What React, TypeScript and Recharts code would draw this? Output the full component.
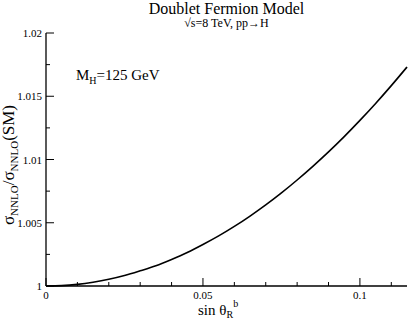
import React from 'react'
import { LineChart, Line, XAxis, YAxis } from 'recharts'

// sin(theta_R^b) sampled every 0.005
const sinTheta = [
  0, 0.005, 0.01, 0.015, 0.02, 0.025, 0.03, 0.035, 0.04, 0.045, 0.05, 0.055,
  0.06, 0.065, 0.07, 0.075, 0.08, 0.085, 0.09, 0.095, 0.1, 0.105, 0.11, 0.115,
]
// sigma_NNLO / sigma_NNLO(SM)
const ratio = [
  1, 1.00003, 1.00013, 1.0003, 1.00053, 1.00083, 1.0012, 1.0016, 1.0021,
  1.00265, 1.00328, 1.00396, 1.00471, 1.00553, 1.00641, 1.00736, 1.00838,
  1.00946, 1.0106, 1.01181, 1.01309, 1.01443, 1.01584, 1.01731,
]

const xTicks = [0, 0.01, 0.02, 0.03, 0.04, 0.05, 0.06, 0.07, 0.08, 0.09, 0.1, 0.11]
const xMajor = [0, 0.05, 0.1]
const xMajorLabels = ['0', '0.05', '0.1']
const yTicks = [1, 1.0025, 1.005, 1.0075, 1.01, 1.0125, 1.015, 1.0175, 1.02]
const yMajor = [1, 1.005, 1.01, 1.015, 1.02]
const yMajorLabels = ['1', '1.005', '1.01', '1.015', '1.02']

const data = sinTheta.map((x, i) => ({ x, y: ratio[i] }))

const FONT = '"Liberation Serif", "DejaVu Serif", serif'

const majorIndex = (list: number[], v: number) =>
  list.findIndex((m) => Math.abs(m - v) < 1e-9)

const XTick = ({ x, y, payload, top }: any) => {
  const i = majorIndex(xMajor, payload.value)
  const len = i >= 0 ? 8 : 4
  const dir = top ? 1 : -1
  return (
    <g>
      <line x1={x} x2={x} y1={y} y2={y + dir * len} stroke="#000" strokeWidth={1} />
      {!top && i >= 0 && (
        <text x={x} y={y + 13} textAnchor="middle" fontSize={11} fontFamily={FONT} fill="#000">
          {xMajorLabels[i]}
        </text>
      )}
    </g>
  )
}

const YTick = ({ x, y, payload, right }: any) => {
  const i = majorIndex(yMajor, payload.value)
  const len = i >= 0 ? 8 : 4
  const dir = right ? -1 : 1
  return (
    <g>
      <line x1={x} x2={x + dir * len} y1={y} y2={y} stroke="#000" strokeWidth={1} />
      {!right && i >= 0 && (
        <text x={x - 4} y={y + 4} textAnchor="end" fontSize={11} fontFamily={FONT} fill="#000">
          {yMajorLabels[i]}
        </text>
      )}
    </g>
  )
}

export default function App() {
  return (
    <div style={{ position: 'relative', width: 409, height: 324, fontFamily: FONT, color: '#000' }}>
      <style>{`body{margin:0}`}</style>
      <div style={{ position: 'absolute', left: 46, width: 361, top: 1, textAlign: 'center', fontSize: 16, lineHeight: '16px' }}>
        Doublet Fermion Model
      </div>
      <div style={{ position: 'absolute', left: 46, width: 361, top: 17, textAlign: 'center', fontSize: 12, lineHeight: '12px' }}>
        √s=8 TeV, pp→H
      </div>
      <LineChart
        width={409}
        height={324}
        data={data}
        margin={{ top: 33, right: 2, bottom: 0, left: 0 }}
      >
        <XAxis
          xAxisId="b"
          dataKey="x"
          type="number"
          domain={[0, 0.115]}
          ticks={xTicks}
          interval={0}
          height={38}
          tickSize={0}
          tickMargin={0}
          tickLine={false}
          axisLine={{ stroke: '#000', strokeWidth: 1.3 }}
          tick={<XTick />}
        />
        <XAxis
          xAxisId="t"
          orientation="top"
          dataKey="x"
          type="number"
          domain={[0, 0.115]}
          ticks={xTicks}
          interval={0}
          height={0}
          tickSize={0}
          tickMargin={0}
          tickLine={false}
          axisLine={{ stroke: '#000', strokeWidth: 1.3 }}
          tick={<XTick top />}
        />
        <YAxis
          yAxisId="l"
          type="number"
          domain={[1, 1.02]}
          ticks={yTicks}
          interval={0}
          width={46}
          tickSize={0}
          tickMargin={0}
          tickLine={false}
          axisLine={{ stroke: '#000', strokeWidth: 1.3 }}
          tick={<YTick />}
        />
        <YAxis
          yAxisId="r"
          orientation="right"
          type="number"
          domain={[1, 1.02]}
          ticks={yTicks}
          interval={0}
          width={0}
          tickSize={0}
          tickMargin={0}
          tickLine={false}
          axisLine={{ stroke: '#000', strokeWidth: 1.6 }}
          tick={<YTick right />}
        />
        <Line
          xAxisId="b"
          yAxisId="l"
          dataKey="y"
          type="monotone"
          stroke="#000"
          strokeWidth={1.6}
          dot={false}
          isAnimationActive={false}
        />
      </LineChart>
      <div style={{ position: 'absolute', left: 76, top: 68, fontSize: 15, lineHeight: '15px', whiteSpace: 'nowrap' }}>
        M<sub style={{ fontSize: 10, verticalAlign: -4 }}>H</sub>=125 GeV
      </div>
      <div style={{ position: 'absolute', left: 198, top: 299, fontSize: 15, lineHeight: '15px', whiteSpace: 'nowrap' }}>
        sin θ<sub style={{ fontSize: 10, verticalAlign: -3, lineHeight: '10px' }}>R</sub>
        <sup style={{ fontSize: 10, verticalAlign: 8, lineHeight: '10px' }}>b</sup>
      </div>
      <div
        style={{
          position: 'absolute',
          left: 11,
          top: 165,
          transform: 'translate(-50%, -50%) rotate(-90deg)',
          fontSize: 17,
          lineHeight: '17px',
          whiteSpace: 'nowrap',
        }}
      >
        σ<sub style={{ fontSize: 11, verticalAlign: -4 }}>NNLO</sub>/σ
        <sub style={{ fontSize: 11, verticalAlign: -4 }}>NNLO</sub>(SM)
      </div>
    </div>
  )
}
